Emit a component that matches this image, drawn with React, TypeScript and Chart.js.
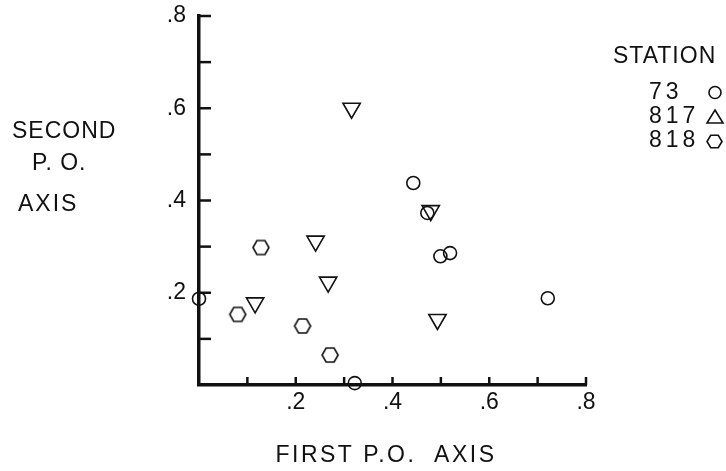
import React, { useEffect, useRef } from 'react';
import { Chart, registerables } from 'chart.js';
Chart.register(...registerables);

// Station 73 (circles)
const station73X = [0.443, 0.472, 0.499, 0.519, 0.0, 0.322, 0.721];
const station73Y = [0.438, 0.373, 0.279, 0.286, 0.187, 0.004, 0.188];
// Station 817 (triangles)
const station817X = [0.3155, 0.241, 0.267, 0.116, 0.479, 0.493];
const station817Y = [0.600, 0.312, 0.223, 0.178, 0.378, 0.142];
// Station 818 (hexagons)
const station818X = [0.128, 0.080, 0.214, 0.271];
const station818Y = [0.298, 0.153, 0.128, 0.065];

const tickValues = [0.1, 0.2, 0.3, 0.4, 0.5, 0.6, 0.7, 0.8];
const labelValues = [0.2, 0.4, 0.6, 0.8];
const labelTexts = ['.2', '.4', '.6', '.8'];
const legendTitle = 'STATION';
const legendNames = ['73', '817', '818'];
const xTitle = 'FIRST P.O.  AXIS';
const yTitleLines = ['SECOND', 'P. O.', 'AXIS'];

const FONT = '"Liberation Sans", "DejaVu Sans", sans-serif';

function hexPath(ctx: CanvasRenderingContext2D, cx: number, cy: number, r: number, ry: number) {
  ctx.beginPath();
  for (let i = 0; i < 6; i++) {
    const a = (Math.PI / 3) * i;
    const x = cx + r * Math.cos(a);
    const y = cy + ry * Math.sin(a) / Math.sin(Math.PI / 3);
    if (i === 0) ctx.moveTo(x, y); else ctx.lineTo(x, y);
  }
  ctx.closePath();
}

function makeHex(r: number, ry: number): HTMLCanvasElement {
  const c = document.createElement('canvas');
  const w = Math.ceil(2 * r + 4);
  const h = Math.ceil(2 * ry + 4);
  c.width = w; c.height = h;
  const ctx = c.getContext('2d')!;
  ctx.strokeStyle = '#111';
  ctx.lineWidth = 1.6;
  hexPath(ctx, w / 2, h / 2, r, ry);
  ctx.stroke();
  return c;
}

function fmt(v: number): string {
  const i = labelValues.findIndex((l) => Math.abs(l - v) < 1e-6);
  return i >= 0 ? labelTexts[i] : '';
}

const decorPlugin = {
  id: 'decor',
  afterDraw(chart: any) {
    const ctx: CanvasRenderingContext2D = chart.ctx;
    const xs = chart.scales.x;
    const ys = chart.scales.y;
    const area = chart.chartArea;
    ctx.save();
    ctx.strokeStyle = '#111';
    ctx.lineWidth = 2.5;
    // inward ticks
    tickValues.forEach((v) => {
      const px = xs.getPixelForValue(v);
      ctx.beginPath();
      ctx.moveTo(px, area.bottom);
      ctx.lineTo(px, area.bottom - 8);
      ctx.stroke();
      const py = ys.getPixelForValue(v);
      ctx.beginPath();
      ctx.moveTo(area.left, py);
      ctx.lineTo(area.left + 12, py);
      ctx.stroke();
    });
    ctx.fillStyle = '#111';
    ctx.textBaseline = 'middle';
    // titles
    ctx.font = `23px ${FONT}`;
    (ctx as any).letterSpacing = '2.5px';
    ctx.textAlign = 'center';
    ctx.fillText(xTitle, 386, 456);
    (ctx as any).letterSpacing = '1px';
    ctx.textAlign = 'left';
    ctx.fillText(yTitleLines[0], 12, 132);
    ctx.fillText(yTitleLines[1], 32, 164);
    (ctx as any).letterSpacing = '2px';
    ctx.fillText(yTitleLines[2], 18, 205);
    // legend
    (ctx as any).letterSpacing = '1px';
    ctx.fillText(legendTitle, 613, 57);
    (ctx as any).letterSpacing = '4px';
    const rows = [93, 117, 141];
    legendNames.forEach((n, i) => ctx.fillText(n, 649, rows[i]));
    ctx.lineWidth = 1.6;
    ctx.beginPath();
    ctx.arc(715, 92.5, 6, 0, Math.PI * 2);
    ctx.stroke();
    ctx.beginPath();
    ctx.moveTo(715, 110);
    ctx.lineTo(723, 123);
    ctx.lineTo(707, 123);
    ctx.closePath();
    ctx.stroke();
    hexPath(ctx, 714.5, 141.5, 7.5, 6.2);
    ctx.stroke();
    ctx.restore();
  },
};

const noPad = (s: any) => {
  s.paddingTop = 0;
  s.paddingBottom = 0;
  s.paddingLeft = 0;
  s.paddingRight = 0;
};

export default function App() {
  const ref = useRef<HTMLCanvasElement | null>(null);
  useEffect(() => {
    document.body.style.margin = '0';
    const hex = makeHex(8, 7);
    const toPts = (xsArr: number[], ysArr: number[]) => xsArr.map((x, i) => ({ x, y: ysArr[i] }));
    const chart = new Chart(ref.current!, {
      type: 'scatter',
      data: {
        datasets: [
          {
            label: legendNames[0],
            data: toPts(station73X, station73Y),
            pointStyle: 'circle',
            pointRadius: 6.5,
            borderColor: '#111',
            backgroundColor: 'rgba(0,0,0,0)',
            borderWidth: 1.6,
            clip: false as any,
          },
          {
            label: legendNames[1],
            data: toPts(station817X, station817Y),
            pointStyle: 'triangle',
            rotation: 180,
            pointRadius: 10,
            borderColor: '#111',
            backgroundColor: 'rgba(0,0,0,0)',
            borderWidth: 1.6,
            clip: false as any,
          },
          {
            label: legendNames[2],
            data: toPts(station818X, station818Y),
            pointStyle: hex as any,
            pointRadius: 8,
            borderColor: '#111',
            backgroundColor: 'rgba(0,0,0,0)',
            clip: false as any,
          },
        ],
      },
      options: {
        responsive: false,
        animation: false,
        events: [],
        layout: { padding: { left: 149, right: 140, top: 16, bottom: 36 } },
        plugins: { legend: { display: false }, tooltip: { enabled: false } },
        scales: {
          x: {
            type: 'linear',
            min: 0,
            max: 0.8,
            afterFit: (s: any) => { s.height = 50; noPad(s); },
            grid: { display: false, drawTicks: false },
            border: { display: true, width: 3.5, color: '#111' },
            ticks: {
              stepSize: 0.2,
              padding: 4,
              color: '#111',
              font: { family: FONT, size: 23 },
              callback: (v: any) => fmt(Number(v)),
              maxRotation: 0,
            },
          },
          y: {
            type: 'linear',
            min: 0,
            max: 0.8,
            afterFit: (s: any) => { s.width = 50; noPad(s); },
            grid: { display: false, drawTicks: false },
            border: { display: true, width: 3.5, color: '#111' },
            ticks: {
              stepSize: 0.2,
              padding: 13,
              color: '#111',
              font: { family: FONT, size: 23 },
              callback: (v: any) => fmt(Number(v)),
            },
          },
        },
      },
      plugins: [decorPlugin],
    });
    return () => chart.destroy();
  }, []);
  return <canvas ref={ref} width={726} height={471} style={{ display: 'block' }} />;
}
